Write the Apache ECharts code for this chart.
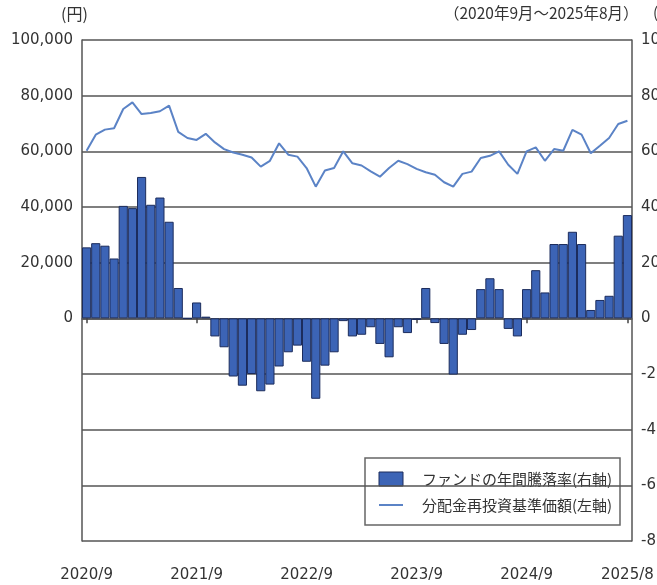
<!DOCTYPE html>
<html>
<head>
<meta charset="utf-8">
<script src="https://cdn.jsdelivr.net/npm/echarts@6/dist/echarts.min.js"></script>
<style>
  html, body { margin: 0; padding: 0; background: #fff; overflow: hidden; }
  #echart { width: 657px; height: 585px; }
</style>
</head>
<body>
<div id="echart"></div>
<script>
  // 2020/9 ～ 2025/8 の月次
  const startYear = 2020, startMonth = 9, monthCount = 60;
  const months = [];
  for (let i = 0; i < monthCount; i++) {
    const m = startMonth - 1 + i;
    months.push((startYear + Math.floor(m / 12)) + '/' + (m % 12 + 1));
  }
  const tickLabels = ['2020/9', '2021/9', '2022/9', '2023/9', '2024/9', '2025/8'];

  // ファンドの年間騰落率(%)
  const annualReturn = [
    25.5, 27.0, 26.1, 21.5, 40.4, 39.6, 50.8, 40.8, 43.4, 34.7,
    10.9, 0, 5.7, 0.6, -6.5, -10.4, -20.9, -24.2, -20.0, -26.2,
    -23.8, -17.3, -12.2, -9.8, -15.6, -28.9, -17.0, -12.2, -1.0, -6.5,
    -5.9, -3.2, -9.2, -14.0, -3.2, -5.3, -0.6, 10.9, -1.7, -9.2,
    -20.2, -5.9, -4.2, 10.5, 14.4, 10.5, -3.8, -6.5, 10.5, 17.3,
    9.3, 26.7, 26.7, 31.1, 26.7, 3.0, 6.6, 8.1, 29.7, 37.1
  ];

  // 分配金再投資基準価額(円)
  const navReinvested = [
    60200, 66000, 67800, 68300, 75200, 77600, 73400, 73800, 74400, 76400,
    67000, 64800, 64100, 66300, 63200, 60800, 59600, 58800, 57800, 54500,
    56600, 62900, 58800, 58100, 54000, 47300, 53100, 54000, 60000, 55700,
    54900, 52800, 50900, 54000, 56600, 55400, 53700, 52500, 51600, 48900,
    47300, 51900, 52700, 57600, 58400, 60000, 55200, 51900, 60000, 61400,
    56600, 60800, 60200, 67700, 66000, 59300, 62000, 64800, 69800, 71000
  ];

  const barName = 'ファンドの年間騰落率(右軸)';
  const lineName = '分配金再投資基準価額(左軸)';
  const barColor = '#3c64b6';
  const barBorder = '#1c2c5c';
  const lineColor = '#5b83c6';

  const numFont = 'DejaVu Sans';
  const jpFont = "'Noto Sans CJK JP', sans-serif";
  const showIdx = (idx) => idx % 12 === 0 || idx === monthCount - 1;

  const myChart = echarts.init(document.getElementById('echart'));
  const option = {
    animation: false,
    backgroundColor: '#fff',
    grid: { left: 82, right: 25, top: 40, bottom: 44, containLabel: false, outerBoundsMode: 'none' },
    legend: { show: false },
    graphic: [
      { type: 'text', x: 61, y: 6, style: { text: '(円)', font: '16px ' + jpFont, fill: '#333' } },
      { type: 'text', x: 444, y: 5, style: { text: '（2020年9月～2025年8月）', font: '15.5px ' + jpFont, fill: '#333' } },
      { type: 'text', x: 653, y: 5, style: { text: '(%)', font: '15px ' + jpFont, fill: '#333' } },
      // 凡例
      {
        type: 'group', x: 365, y: 458, z: 100,
        children: [
          { type: 'rect', shape: { x: 0, y: 0, width: 255, height: 67 }, style: { fill: '#fff', stroke: '#666', lineWidth: 1.5 } },
          { type: 'rect', shape: { x: 14, y: 14, width: 24, height: 14 }, style: { fill: barColor, stroke: barBorder, lineWidth: 1 } },
          { type: 'text', x: 57, y: 21, style: { text: barName, font: '15px ' + jpFont, fill: '#333', verticalAlign: 'middle' } },
          { type: 'line', shape: { x1: 14, y1: 47, x2: 38, y2: 47 }, style: { stroke: lineColor, lineWidth: 2 } },
          { type: 'text', x: 57, y: 47, style: { text: lineName, font: '15px ' + jpFont, fill: '#333', verticalAlign: 'middle' } }
        ]
      }
    ],
    xAxis: {
      type: 'category',
      data: months,
      boundaryGap: true,
      axisLine: { show: true, lineStyle: { color: '#555', width: 1.5 } },
      axisTick: { show: true, alignWithLabel: true, interval: showIdx, length: 5, lineStyle: { color: '#444', width: 1.5 } },
      axisLabel: {
        interval: showIdx,
        margin: 27,
        fontFamily: numFont,
        fontSize: 15,
        color: '#333',
        formatter: (v) => tickLabels.indexOf(v) >= 0 ? v : ''
      },
      splitLine: { show: false }
    },
    yAxis: [
      {
        type: 'value',
        min: -80000,
        max: 100000,
        interval: 20000,
        axisLine: { show: true, lineStyle: { color: '#555', width: 1.5 } },
        axisTick: { show: false },
        axisLabel: {
          margin: 9,
          fontFamily: numFont,
          fontSize: 15,
          color: '#333',
          formatter: (v) => v < 0 ? '' : v.toLocaleString('en-US')
        },
        splitLine: { show: true, lineStyle: { color: '#555', width: 1.5 } }
      },
      {
        type: 'value',
        min: -80,
        max: 100,
        interval: 20,
        axisLine: { show: true, lineStyle: { color: '#555', width: 1.5 } },
        axisTick: { show: false },
        axisLabel: { margin: 9, fontFamily: numFont, fontSize: 15, color: '#333' },
        splitLine: { show: false }
      }
    ],
    series: [
      {
        name: barName,
        type: 'bar',
        yAxisIndex: 1,
        barCategoryGap: '0%',
        itemStyle: { color: barColor, borderColor: barBorder, borderWidth: 1 },
        data: annualReturn
      },
      {
        name: lineName,
        type: 'line',
        yAxisIndex: 0,
        symbol: 'none',
        lineStyle: { color: lineColor, width: 2 },
        data: navReinvested
      }
    ]
  };
  myChart.setOption(option);
</script>
</body>
</html>
